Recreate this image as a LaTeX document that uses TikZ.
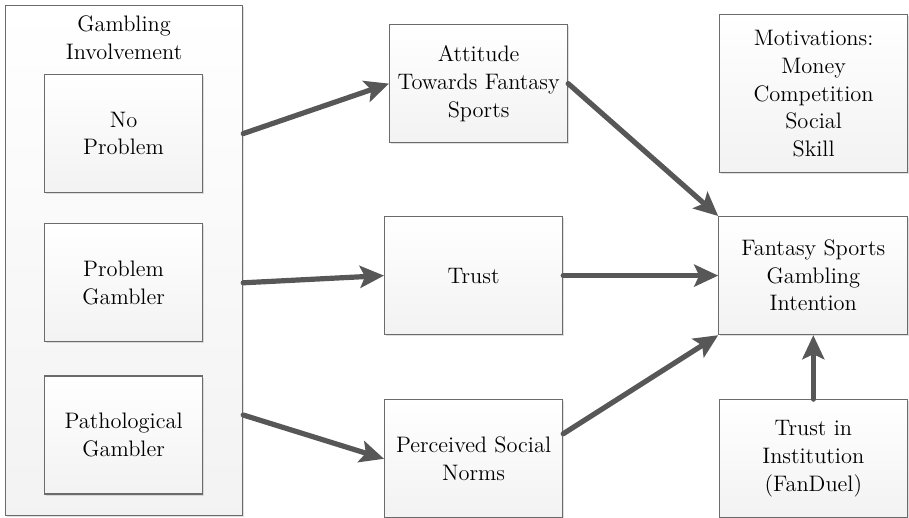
\documentclass[tikz,border=0pt]{standalone}
\usetikzlibrary{arrows.meta, positioning, shadows}

\begin{document}
\begin{tikzpicture}[x=0.5pt, y=-0.5pt,
    factor/.style={rectangle, draw=black!58, line width=0.6pt,
        top color=white, bottom color=black!5,
        drop shadow={shadow xshift=0.8pt, shadow yshift=-0.8pt, fill=black!25, opacity=0.5},
        align=center, font=\fontsize{11.2}{13.8}\selectfont,
        minimum width=89pt, minimum height=59pt, inner sep=1pt},
    link/.style={draw=black!66, line width=2.6pt, line cap=round,
        -{Stealth[length=12pt, width=11pt, inset=2.5pt]}}]

        \useasboundingbox (0,0) rectangle (909,518);

        % gambling involvement group
        \node[factor, minimum width=118.5pt, minimum height=255pt, anchor=north west] (outer) at (5,5) {};

        \node[anchor=north, align=center, font=\fontsize{11.2}{13.8}\selectfont] (title)
            at ([yshift=-2pt]outer.north) {Gambling\\Involvement};

        \node[factor, minimum width=79pt, anchor=north west] (noprob) at (44,74)
            {No\\Problem};

        \node[factor, minimum width=79pt] (problem) [below=15pt of noprob]
            {Problem\\Gambler};

        \node[factor, minimum width=79pt] (patho) [below=16.5pt of problem]
            {Pathological\\Gambler};

        % middle column
        \node[factor, anchor=north west] (attitude) at (389,24)
            {Attitude\\Towards Fantasy\\Sports};

        \node[factor, anchor=north west] (trust) at (384,216)
            {Trust};

        \node[factor] (perceived) [below=32pt of trust]
            {Perceived Social\\Norms};

        % right column
        \node[factor, minimum width=94pt, minimum height=79pt, anchor=north west] (motiv) at (719,14)
            {Motivations:\\Money\\Competition\\Social\\Skill};

        \node[factor, minimum width=94.5pt] (fantasy) [right=77.5pt of trust]
            {Fantasy Sports\\Gambling\\Intention};

        \node[factor, minimum width=94pt] (trustinst) [below=32pt of fantasy]
            {Trust in\\Institution\\(FanDuel)};

        \path (outer.east |- patho.east) ++(0,-20) coordinate (pathostart);

        \draw[link] (outer.east |- noprob.east) -- (attitude.west);
        \draw[link] (outer.east |- problem.east) -- (trust.west);
        \draw[link] (pathostart) -- (perceived.west);

        \draw[link] (attitude.east) -- (fantasy.north west);
        \draw[link] (trust.east) -- (fantasy.west);
        \draw[link] ([yshift=12.5pt]perceived.east) -- (fantasy.south west);
        \draw[link] (trustinst.north) -- (fantasy.south);

    \end{tikzpicture}
\end{document}
